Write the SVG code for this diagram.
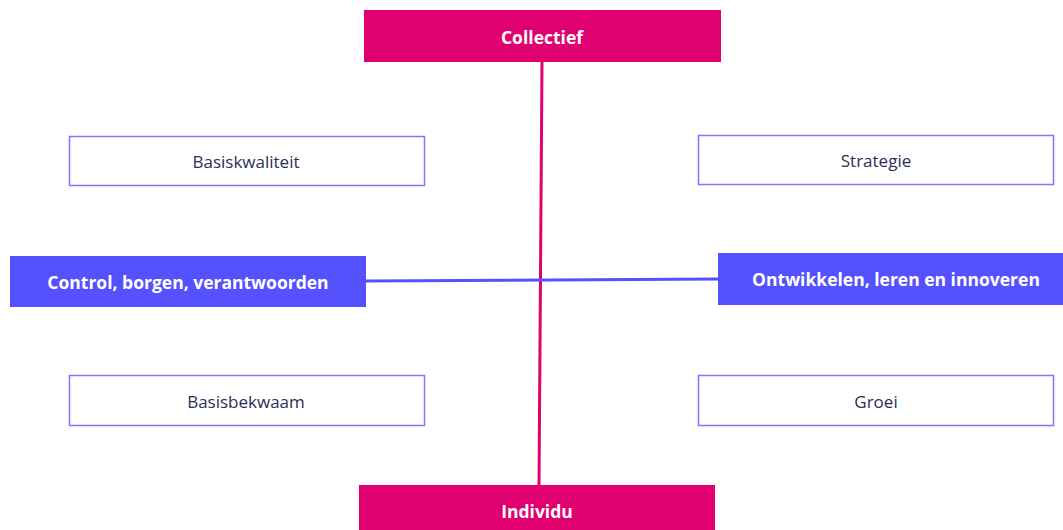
<svg xmlns="http://www.w3.org/2000/svg" width="1063" height="530" viewBox="0 0 1063 530">
<style>
.mag{fill:#E0006F}
.blue{fill:#5551FF}
.plain{fill:#fff;stroke:#7B78FF;stroke-width:1.5}
.wt{fill:#fff;font-family:"Open Sans","Liberation Sans",sans-serif;font-weight:bold;font-size:17.5px;text-anchor:middle;dominant-baseline:central}
.dt{fill:#2B2D5C;font-family:"Open Sans","Liberation Sans",sans-serif;font-size:17px;text-anchor:middle;dominant-baseline:central}
</style>
<rect width="1063" height="530" fill="#fff"/>
<g id="connectors">
<line x1="542" y1="62" x2="539" y2="485" stroke="#E0006F" stroke-width="3"/>
<line x1="366" y1="281" x2="718" y2="279" stroke="#5551FF" stroke-width="3"/>
</g>
<g id="collectief"><rect class="mag" x="364" y="10" width="357" height="52"/><text class="wt" x="542" y="37">Collectief</text></g>
<g id="individu"><rect class="mag" x="359" y="485" width="356" height="45"/><text class="wt" x="537" y="511">Individu</text></g>
<g id="control"><rect class="blue" x="10" y="256" width="356" height="51"/><text class="wt" x="188" y="282">Control, borgen, verantwoorden</text></g>
<g id="ontwikkelen"><rect class="blue" x="718" y="253" width="345" height="52"/><text class="wt" x="896" y="279">Ontwikkelen, leren en innoveren</text></g>
<g id="basiskwaliteit"><rect class="plain" x="69.5" y="136.5" width="355" height="49"/><text class="dt" x="246" y="161">Basiskwaliteit</text></g>
<g id="strategie"><rect class="plain" x="698.5" y="135.5" width="355" height="49"/><text class="dt" x="876" y="160">Strategie</text></g>
<g id="basisbekwaam"><rect class="plain" x="69.5" y="375.5" width="355" height="50"/><text class="dt" x="246" y="401">Basisbekwaam</text></g>
<g id="groei"><rect class="plain" x="698.5" y="375.5" width="355" height="50"/><text class="dt" x="876" y="401">Groei</text></g>
</svg>
